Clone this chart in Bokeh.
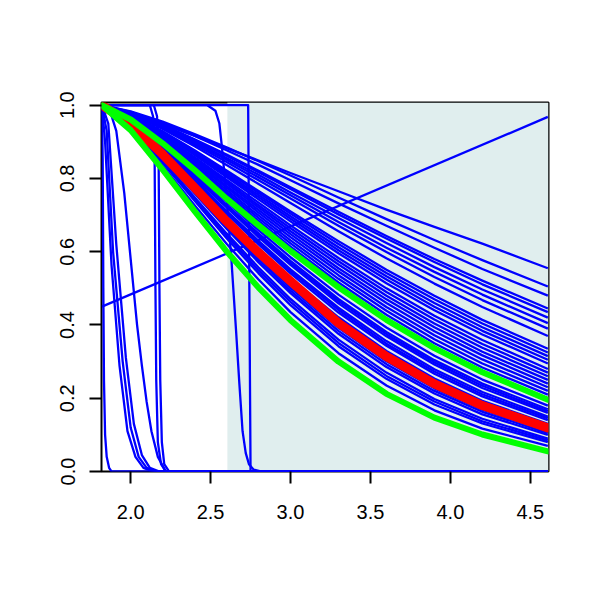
from bokeh.plotting import figure
from bokeh.models import FixedTicker, PrintfTickFormatter, Range1d
from bokeh.embed import file_html
from bokeh.resources import INLINE

# ---- data ----
x_grid = [1.82, 2.0, 2.2, 2.4, 2.6, 2.8, 3.0, 3.3, 3.6, 3.9, 4.2, 4.61]

red_y = [1.0, 0.949, 0.866, 0.775, 0.683, 0.598, 0.520, 0.405, 0.314, 0.239, 0.180, 0.119]
green_hi_y = [1.0, 0.961, 0.896, 0.823, 0.745, 0.672, 0.602, 0.503, 0.414, 0.337, 0.271, 0.196]
green_lo_y = [1.0, 0.932, 0.824, 0.711, 0.601, 0.502, 0.413, 0.300, 0.212, 0.147, 0.101, 0.055]

top_group = [
    [1.0, 0.979, 0.949, 0.917, 0.883, 0.849, 0.815, 0.765, 0.715, 0.668, 0.622, 0.555],
    [1.0, 0.983, 0.955, 0.921, 0.885, 0.847, 0.808, 0.748, 0.689, 0.632, 0.577, 0.505],
    [1.0, 0.982, 0.951, 0.916, 0.877, 0.837, 0.795, 0.732, 0.671, 0.611, 0.553, 0.480],
    [1.0, 0.980, 0.947, 0.907, 0.865, 0.821, 0.776, 0.709, 0.643, 0.580, 0.521, 0.445],
    [1.0, 0.980, 0.945, 0.905, 0.862, 0.817, 0.771, 0.702, 0.636, 0.572, 0.511, 0.435],
    [1.0, 0.979, 0.943, 0.901, 0.856, 0.810, 0.762, 0.692, 0.624, 0.558, 0.497, 0.420],
    [1.0, 0.978, 0.941, 0.897, 0.851, 0.803, 0.754, 0.681, 0.611, 0.545, 0.483, 0.405],
    [1.0, 0.977, 0.938, 0.893, 0.845, 0.795, 0.745, 0.671, 0.599, 0.531, 0.468, 0.390],
    [1.0, 0.976, 0.935, 0.888, 0.837, 0.785, 0.733, 0.656, 0.582, 0.513, 0.449, 0.370],
]
mid_group = [
    [1.0, 0.973, 0.929, 0.877, 0.822, 0.766, 0.710, 0.629, 0.551, 0.480, 0.414, 0.335],
    [1.0, 0.973, 0.927, 0.874, 0.818, 0.761, 0.704, 0.621, 0.542, 0.470, 0.404, 0.325],
    [1.0, 0.972, 0.925, 0.871, 0.813, 0.755, 0.697, 0.612, 0.533, 0.460, 0.394, 0.315],
    [1.0, 0.971, 0.923, 0.867, 0.809, 0.749, 0.690, 0.604, 0.524, 0.450, 0.384, 0.305],
    [1.0, 0.970, 0.921, 0.864, 0.804, 0.743, 0.683, 0.596, 0.514, 0.440, 0.374, 0.295],
    [1.0, 0.969, 0.917, 0.858, 0.796, 0.734, 0.672, 0.583, 0.500, 0.425, 0.359, 0.280],
    [1.0, 0.968, 0.915, 0.855, 0.791, 0.727, 0.664, 0.574, 0.490, 0.415, 0.348, 0.270],
    [1.0, 0.967, 0.913, 0.851, 0.786, 0.721, 0.656, 0.565, 0.480, 0.404, 0.338, 0.260],
    [1.0, 0.966, 0.910, 0.847, 0.780, 0.714, 0.648, 0.555, 0.470, 0.394, 0.327, 0.250],
    [1.0, 0.965, 0.908, 0.843, 0.775, 0.707, 0.640, 0.546, 0.460, 0.383, 0.317, 0.240],
    [1.0, 0.964, 0.905, 0.838, 0.769, 0.699, 0.631, 0.536, 0.449, 0.372, 0.306, 0.230],
    [1.0, 0.963, 0.902, 0.834, 0.763, 0.692, 0.623, 0.526, 0.439, 0.361, 0.295, 0.220],
    [1.0, 0.962, 0.900, 0.829, 0.757, 0.684, 0.614, 0.516, 0.428, 0.350, 0.284, 0.210],
    [1.0, 0.961, 0.897, 0.825, 0.750, 0.676, 0.604, 0.505, 0.416, 0.339, 0.273, 0.200],
]
between_group = [
    [1.0, 0.959, 0.890, 0.814, 0.736, 0.659, 0.585, 0.483, 0.393, 0.316, 0.251, 0.180],
    [1.0, 0.957, 0.887, 0.809, 0.728, 0.650, 0.575, 0.471, 0.381, 0.304, 0.240, 0.170],
    [1.0, 0.956, 0.885, 0.806, 0.725, 0.645, 0.569, 0.465, 0.375, 0.298, 0.234, 0.165],
    [1.0, 0.956, 0.883, 0.803, 0.721, 0.640, 0.564, 0.459, 0.369, 0.292, 0.228, 0.160],
    [1.0, 0.954, 0.879, 0.797, 0.712, 0.630, 0.552, 0.447, 0.356, 0.279, 0.217, 0.150],
    [1.0, 0.953, 0.877, 0.793, 0.708, 0.625, 0.547, 0.441, 0.349, 0.273, 0.211, 0.145],
    [1.0, 0.953, 0.875, 0.790, 0.704, 0.620, 0.541, 0.434, 0.343, 0.267, 0.205, 0.140],
    [1.0, 0.951, 0.871, 0.783, 0.694, 0.609, 0.528, 0.421, 0.329, 0.254, 0.193, 0.130],
]
low_group = [
    [1.0, 0.947, 0.861, 0.767, 0.674, 0.585, 0.501, 0.392, 0.301, 0.227, 0.169, 0.110],
    [1.0, 0.946, 0.858, 0.763, 0.668, 0.578, 0.494, 0.384, 0.293, 0.220, 0.163, 0.105],
    [1.0, 0.945, 0.855, 0.759, 0.663, 0.571, 0.487, 0.376, 0.285, 0.213, 0.156, 0.100],
    [1.0, 0.942, 0.849, 0.749, 0.650, 0.557, 0.471, 0.360, 0.270, 0.198, 0.144, 0.090],
    [1.0, 0.941, 0.846, 0.744, 0.644, 0.549, 0.463, 0.351, 0.261, 0.191, 0.137, 0.085],
    [1.0, 0.940, 0.843, 0.739, 0.637, 0.541, 0.454, 0.342, 0.253, 0.183, 0.131, 0.080],
    [1.0, 0.936, 0.835, 0.727, 0.622, 0.524, 0.435, 0.323, 0.235, 0.167, 0.117, 0.070],
]

# fast-dropping curves near the left
drop1_x = [1.82, 1.825, 1.829, 1.833, 1.84, 1.85, 1.865, 1.88, 4.61]
drop1_y = [1.0, 0.85, 0.5, 0.25, 0.1, 0.04, 0.01, 0.0, 0.0]
drop2_x = [1.82, 1.84, 1.88, 1.93, 1.98, 2.03, 2.08, 2.14, 4.61]
drop2_y = [1.0, 0.9, 0.565, 0.29, 0.11, 0.04, 0.01, 0.0, 0.0]
drop3_x = [1.82, 1.85, 1.89, 1.95, 2.0, 2.05, 2.1, 2.16, 4.61]
drop3_y = [1.0, 0.93, 0.6, 0.3, 0.12, 0.04, 0.01, 0.0, 0.0]
drop4_x = [1.82, 1.86, 1.91, 1.97, 2.02, 2.07, 2.12, 2.18, 4.61]
drop4_y = [1.0, 0.95, 0.62, 0.31, 0.13, 0.045, 0.01, 0.0, 0.0]
drop5_x = [1.82, 1.87, 1.91, 1.96, 2.0, 2.04, 2.07, 2.1, 2.13, 2.17, 2.22, 4.61]
drop5_y = [1.0, 0.985, 0.93, 0.76, 0.58, 0.40, 0.29, 0.19, 0.11, 0.04, 0.0, 0.0]
cliff1_x = [1.82, 2.12, 2.14, 2.15, 2.155, 2.16, 2.17, 2.19, 2.22, 4.61]
cliff2_x = [1.82, 2.145, 2.165, 2.175, 2.18, 2.185, 2.195, 2.21, 2.24, 4.61]
cliff_y = [1.0, 1.0, 0.97, 0.85, 0.5, 0.25, 0.08, 0.02, 0.0, 0.0]
sig_x = [1.82, 2.48, 2.53, 2.555, 2.57, 2.6, 2.63, 2.66, 2.68, 2.70, 2.72, 2.74, 2.77, 2.82, 4.61]
sig_y = [1.0, 1.0, 0.985, 0.95, 0.89, 0.75, 0.58, 0.38, 0.24, 0.11, 0.05, 0.02, 0.005, 0.0, 0.0]
step_x = [1.82, 2.735, 2.75, 4.61]
step_y = [1.0, 1.0, 0.0, 0.0]
rise_x = [1.82, 4.61]
rise_y = [0.45, 0.968]

shade_x0, shade_x1 = 2.605, 4.614

x_ticks = [2.0, 2.5, 3.0, 3.5, 4.0, 4.5]
y_ticks = [0.0, 0.2, 0.4, 0.6, 0.8, 1.0]

# ---- figure ----
p = figure(width=592, height=592, output_backend="svg", toolbar_location=None,
           x_range=Range1d(1.8175, 4.614), y_range=Range1d(0.0, 1.0074),
           min_border_left=101, min_border_right=44, min_border_top=102, min_border_bottom=121)
p.background_fill_color = "white"
p.border_fill_color = "white"
p.xgrid.visible = False
p.ygrid.visible = False
p.outline_line_color = "black"
p.outline_line_width = 2

p.quad(left=[shade_x0], right=[shade_x1], bottom=[0.0], top=[1.0074],
       fill_color="#E0EEEE", line_color=None)

bundle = top_group + mid_group + between_group + low_group
p.multi_line(xs=[x_grid] * len(bundle), ys=bundle, line_color="#0000FF", line_width=2.3,
             line_join="round")

p.multi_line(xs=[drop1_x, drop2_x, drop3_x, drop4_x, drop5_x, cliff1_x, cliff2_x, sig_x, step_x, rise_x],
             ys=[drop1_y, drop2_y, drop3_y, drop4_y, drop5_y, cliff_y, cliff_y, sig_y, step_y, rise_y],
             line_color="#0000FF", line_width=2.3, line_join="round")

p.line(x_grid, red_y, line_color="#FF0000", line_width=9, line_join="round", line_cap="round")
p.line(x_grid, green_hi_y, line_color="#00FF00", line_width=6, line_join="round", line_cap="round")
p.line(x_grid, green_lo_y, line_color="#00FF00", line_width=6, line_join="round", line_cap="round")

for ax in (p.xaxis[0], p.yaxis[0]):
    ax.axis_line_color = None
    ax.major_tick_line_color = "black"
    ax.major_tick_line_width = 2
    ax.major_tick_out = 12
    ax.major_tick_in = 0
    ax.minor_tick_line_color = None
    ax.major_label_text_font = "Liberation Sans"
    ax.major_label_text_font_size = "20px"
    ax.major_label_text_color = "black"

p.xaxis.ticker = FixedTicker(ticks=x_ticks)
p.yaxis.ticker = FixedTicker(ticks=y_ticks)
p.xaxis.formatter = PrintfTickFormatter(format="%.1f")
p.yaxis.formatter = PrintfTickFormatter(format="%.1f")
p.xaxis.major_label_standoff = 21
p.yaxis.major_label_orientation = "vertical"
p.yaxis.major_label_standoff = 15

open("out.html", "w").write(file_html(p, INLINE))
